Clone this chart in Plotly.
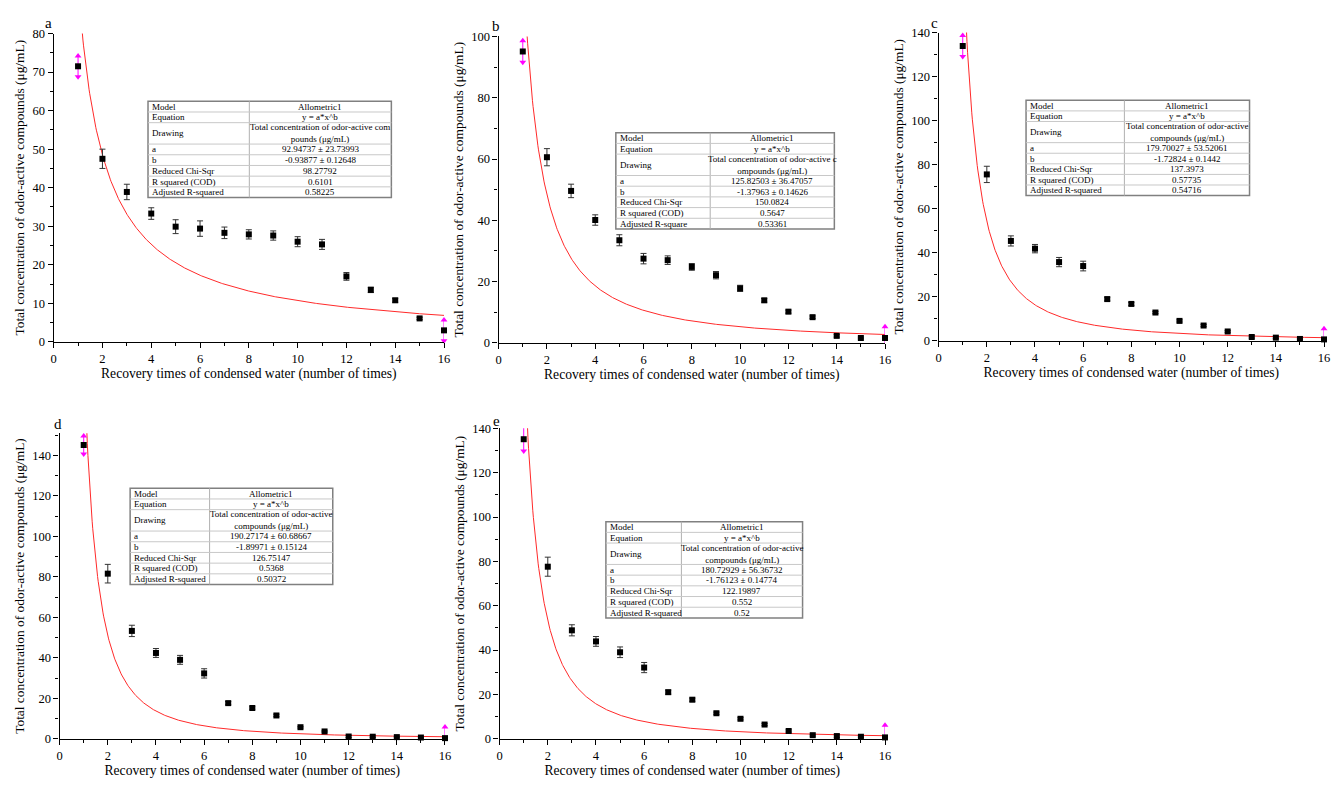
import numpy as np
import plotly.graph_objects as go

# ---------------- data ----------------
x_times = list(range(1, 17))

y_a = [71.5, 47.5, 38.9, 33.3, 29.9, 29.4, 28.3, 27.9, 27.6, 26.0, 25.3, 17.0, 13.5, 10.8, 6.1, 3.0]
e_a = [2.7, 2.5, 2.0, 1.5, 1.8, 2.0, 1.5, 1.2, 1.2, 1.3, 1.3, 1.0, 0.7, 0.5, 0.3, 2.7]

y_b = [95.1, 60.6, 49.6, 40.1, 33.5, 27.5, 27.0, 24.8, 22.1, 17.8, 13.9, 10.2, 8.4, 2.3, 1.6, 1.6]
e_b = [3.5, 2.8, 2.2, 1.7, 1.8, 1.7, 1.4, 1.1, 1.2, 1.0, 0.6, 0.5, 0.4, 0.4, 0.3, 3.7]

y_c = [133.9, 75.6, 45.4, 41.9, 35.8, 34.0, 19.0, 16.8, 12.9, 9.1, 7.0, 4.3, 1.8, 1.5, 0.9, 0.7]
e_c = [4.8, 3.7, 2.3, 1.9, 2.1, 2.2, 0.8, 0.7, 0.5, 0.5, 0.5, 0.4, 0.5, 0.4, 0.3, 4.8]

y_d = [145.2, 81.6, 53.3, 42.4, 39.0, 32.3, 17.6, 15.2, 11.5, 5.7, 3.6, 1.1, 1.0, 0.8, 0.6, 0.3]
e_d = [4.4, 4.6, 2.8, 2.2, 2.2, 2.3, 0.8, 0.6, 0.6, 0.4, 0.3, 0.5, 0.4, 0.4, 0.3, 5.5]

y_e = [135.1, 77.6, 48.9, 43.9, 39.0, 32.1, 21.0, 17.6, 11.5, 9.0, 6.4, 3.5, 1.6, 1.2, 0.9, 0.6]
e_e = [5.3, 4.3, 2.5, 2.2, 2.4, 2.3, 0.9, 0.7, 0.5, 0.5, 0.5, 0.5, 0.4, 0.6, 0.3, 5.5]

fit_a = (92.94737, -0.93877)
fit_b = (125.82503, -1.37963)
fit_c = (179.70027, -1.72824)
fit_d = (190.27174, -1.89971)
fit_e = (180.72929, -1.76123)

panel_labels = ["a", "b", "c", "d", "e"]
y_max = [80, 100, 140, 151, 140]
y_dtick = [10, 20, 20, 20, 20]

table_labels = ["Model", "Equation", "Drawing", "a", "b", "Reduced Chi-Sqr", "R squared (COD)",
                "Adjusted R-squared"]
table_a = ["Allometric1", "y = a*x^b", "Total concentration of odor-active com<br>pounds (μg/mL)",
           "92.94737 ± 23.73993", "-0.93877 ± 0.12648", "98.27792", "0.6101", "0.58225"]
table_b = ["Allometric1", "y = a*x^b", "Total concentration of odor-active c<br>ompounds (μg/mL)",
           "125.82503 ± 36.47057", "-1.37963 ± 0.14626", "150.0824", "0.5647", "0.53361"]
table_c = ["Allometric1", "y = a*x^b", "Total concentration of odor-active<br>compounds (μg/mL)",
           "179.70027 ± 53.52061", "-1.72824 ± 0.1442", "137.3973", "0.57735", "0.54716"]
table_d = ["Allometric1", "y = a*x^b", "Total concentration of odor-active<br>compounds (μg/mL)",
           "190.27174 ± 60.68667", "-1.89971 ± 0.15124", "126.75147", "0.5368", "0.50372"]
table_e = ["Allometric1", "y = a*x^b", "Total concentration of odor-active<br>compounds (μg/mL)",
           "180.72929 ± 56.36732", "-1.76123 ± 0.14774", "122.19897", "0.552", "0.52"]

x_title = "Recovery times of condensed water (number of times)"
y_title = "Total concentration of odor-active compounds (μg/mL)"

# ---------------- layout geometry (pixels) ----------------
W, H = 1334, 786
FONT = "Liberation Serif, Times New Roman, Times, serif"


def px(v):
    return v / W


def py(v):
    return 1 - v / H


# (x0, x1, ytop, ybottom)
boxes = [(51, 444, 27, 341), (499, 888, 30, 342), (942, 1330, 26, 340),
         (57, 445, 434, 745), (500, 888, 429, 745)]
label_pos = [(46, 16), (496, 19), (938, 16), (55, 425), (497, 422)]
# table: x0, xsplit, x1, ytop, ybottom
table_boxes = [(146, 248, 391, 96, 194), (617, 712, 837, 128, 226), (1030, 1129, 1255, 95, 192),
               (128, 208, 332, 490, 588), (607, 683, 805, 524, 622)]

series = [(y_a, e_a, fit_a, table_a), (y_b, e_b, fit_b, table_b), (y_c, e_c, fit_c, table_c),
          (y_d, e_d, fit_d, table_d), (y_e, e_e, fit_e, table_e)]

fig = go.Figure()
shapes = []
annotations = []

for i, ((ys, es, (pa, pb), tvals), (x0, x1, yt, yb)) in enumerate(zip(series, boxes)):
    n = "" if i == 0 else str(i + 1)
    xa, ya = "x" + n, "y" + n
    # fit curve
    xf = np.linspace(1.0, 16.0, 600)
    yf = pa * xf ** pb
    fig.add_trace(go.Scatter(x=xf, y=yf, mode="lines", line=dict(color="#ff2a2a", width=1),
                             xaxis=xa, yaxis=ya, showlegend=False, hoverinfo="skip"))
    # inner points with error bars (exclude endpoints)
    fig.add_trace(go.Scatter(x=x_times[1:-1], y=ys[1:-1], mode="markers",
                             marker=dict(symbol="square", size=6, color="black"),
                             error_y=dict(type="data", array=es[1:-1], color="#333333",
                                          thickness=1, width=3),
                             xaxis=xa, yaxis=ya, showlegend=False, cliponaxis=False))
    # range markers at endpoints (magenta)
    ends = [0, len(ys) - 1]
    mx, my, msym = [], [], []
    for k in ends:
        mx += [x_times[k], x_times[k], None]
        my += [ys[k] + es[k], ys[k] - es[k], None]
        msym += ["triangle-up", "triangle-down", "circle"]
    fig.add_trace(go.Scatter(x=mx, y=my, mode="lines+markers",
                             line=dict(color="#ff00ff", width=1),
                             marker=dict(symbol=msym, size=6, color="#ff00ff"),
                             xaxis=xa, yaxis=ya, showlegend=False, cliponaxis=False))
    fig.add_trace(go.Scatter(x=[x_times[k] for k in ends], y=[ys[k] for k in ends], mode="markers",
                             marker=dict(symbol="square", size=6, color="black"),
                             xaxis=xa, yaxis=ya, showlegend=False, cliponaxis=False))

    axis_common = dict(showline=True, linecolor="black", linewidth=1.3, ticks="outside",
                       ticklen=5, tickwidth=1.2, tickcolor="black", showgrid=False,
                       zeroline=False, mirror=False,
                       tickfont=dict(family=FONT, size=12.5, color="black"))
    fig.layout["xaxis" + n] = dict(
        domain=[px(x0), px(x1)], range=[0, 16], tick0=0, dtick=2, anchor=ya,
        minor=dict(ticks="outside", ticklen=3, dtick=1, tickcolor="black", tickwidth=1),
        title=dict(text=x_title, font=dict(family=FONT, size=13.6, color="black"), standoff=1),
        **axis_common)
    fig.layout["yaxis" + n] = dict(
        domain=[py(yb), py(yt)], range=[0, y_max[i]], tick0=0, dtick=y_dtick[i], anchor=xa,
        minor=dict(ticks="outside", ticklen=3, dtick=y_dtick[i] / 2, tickcolor="black", tickwidth=1),
        title=dict(text=y_title, font=dict(family=FONT, size=13.4, color="black"), standoff=4),
        **axis_common)

    lx, ly = label_pos[i]
    annotations.append(dict(x=px(lx), y=py(ly), xref="paper", yref="paper", text=panel_labels[i],
                            showarrow=False, font=dict(family=FONT, size=15, color="black"),
                            xanchor="center", yanchor="middle"))

    # table
    tx0, txs, tx1, ty0, ty1 = table_boxes[i]
    units = [1, 1, 2, 1, 1, 1, 1, 1]
    uh = (ty1 - ty0) / sum(units)
    shapes.append(dict(type="rect", xref="paper", yref="paper", x0=px(tx0), x1=px(tx1),
                       y0=py(ty1), y1=py(ty0), line=dict(color="#808080", width=1.5),
                       fillcolor="white", layer="above"))
    shapes.append(dict(type="line", xref="paper", yref="paper", x0=px(txs), x1=px(txs),
                       y0=py(ty1), y1=py(ty0), line=dict(color="#b0b0b0", width=1), layer="above"))
    cy = ty0
    for r, (lab, val, u) in enumerate(zip(table_labels, tvals, units)):
        top = cy
        cy += u * uh
        if r < len(units) - 1:
            shapes.append(dict(type="line", xref="paper", yref="paper", x0=px(tx0), x1=px(tx1),
                               y0=py(cy), y1=py(cy), line=dict(color="#c8c8c8", width=1),
                               layer="above"))
        mid = (top + cy) / 2
        lab_txt = lab
        if i == 1 and r == 7:
            lab_txt = "Adjusted R-square"
        annotations.append(dict(x=px(tx0 + 2), y=py(mid), xref="paper", yref="paper", text=lab_txt,
                                showarrow=False, xanchor="left", yanchor="middle",
                                font=dict(family=FONT, size=9, color="black")))
        annotations.append(dict(x=px((txs + tx1) / 2), y=py(mid), xref="paper", yref="paper",
                                text=val, showarrow=False, xanchor="center", yanchor="middle",
                                font=dict(family=FONT, size=9, color="black"),
                                align="center"))

fig.update_layout(width=W, height=H, margin=dict(l=0, r=0, t=0, b=0),
                  paper_bgcolor="white", plot_bgcolor="white",
                  shapes=shapes, annotations=annotations, showlegend=False,
                  font=dict(family=FONT, color="black"))

fig.write_html("out.html")
